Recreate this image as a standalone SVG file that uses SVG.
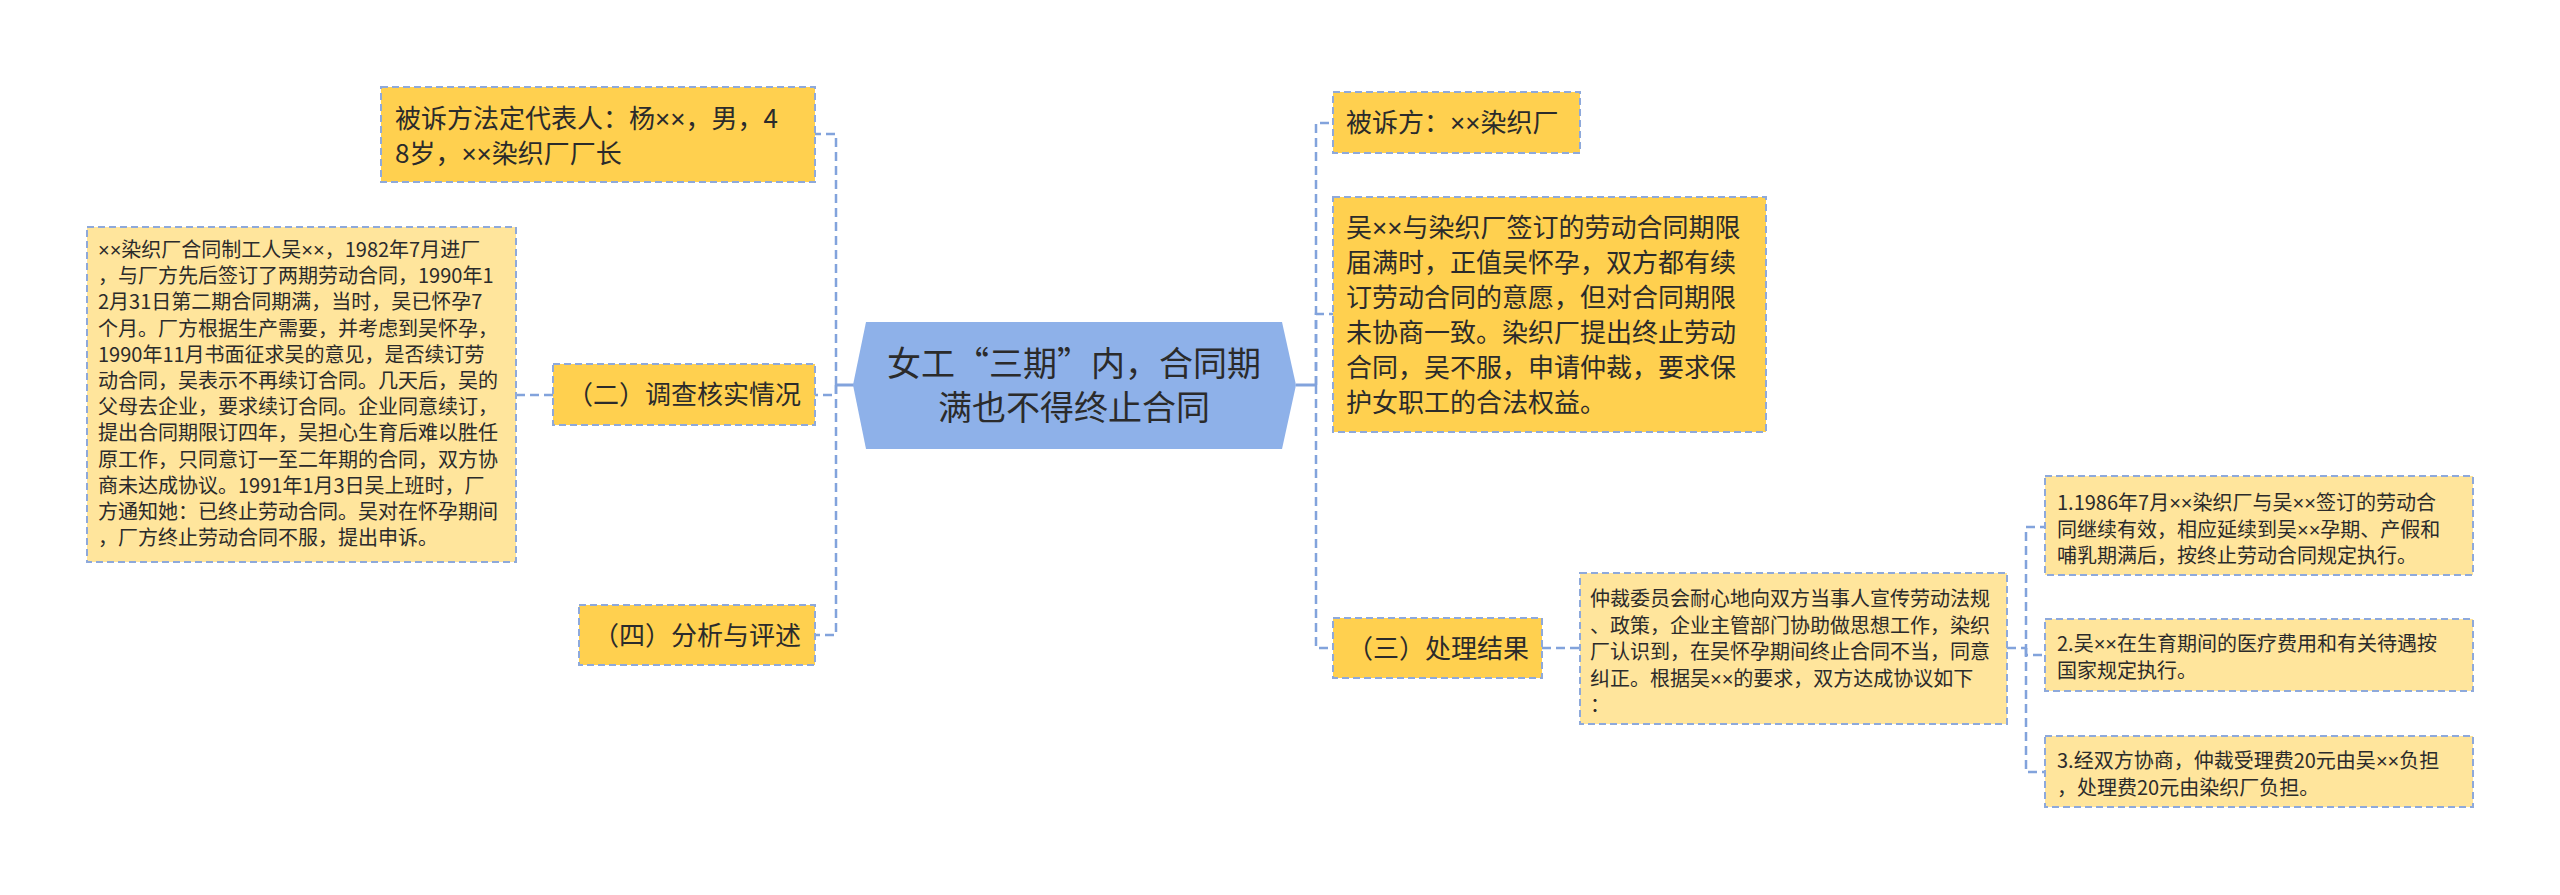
<svg xmlns="http://www.w3.org/2000/svg" width="2560" height="895" viewBox="0 0 2560 895">
<style>
text{font-family:"Noto Sans CJK SC","Microsoft YaHei",sans-serif;fill:#2b2b2b}
.x{font-family:"Liberation Sans",sans-serif}
.n1{fill:#FFD04F;stroke:#8EA9DB;stroke-width:2;stroke-dasharray:7 4}
.n2{fill:#FFE59C;stroke:#8EA9DB;stroke-width:2;stroke-dasharray:7 4}
.t26{font-size:26px}
.t20{font-size:20px}
.t34{font-size:34px}
.c{fill:none;stroke:#82A3DC;stroke-width:2.5;stroke-dasharray:9 5}
.s{fill:none;stroke:#82A3DC;stroke-width:3}
</style>
<rect width="2560" height="895" fill="#ffffff"/>
<g id="connectors">
<path class="s" d="M855 385H836"/>
<path class="c" d="M836 385V134H815"/>
<path class="c" d="M836 385V395H815"/>
<path class="c" d="M836 385V635H815"/>
<path class="c" d="M553 395H516"/>
<path class="s" d="M1296 385H1316"/>
<path class="c" d="M1316 385V123H1333"/>
<path class="c" d="M1316 385V314H1333"/>
<path class="c" d="M1316 385V648H1333"/>
<path class="c" d="M1542 648H1580"/>
<path class="c" d="M2007 648H2026V527H2045"/>
<path class="c" d="M2026 648V655H2045"/>
<path class="c" d="M2026 648V772H2045"/>
</g>
<g id="root">
<polygon points="866,322 1282,322 1296,385 1282,449 866,449 853,385" fill="#8EB1E9"/>
<text class="t34" x="1074" y="376" text-anchor="middle">女工“三期”内，合同期</text>
<text class="t34" x="1074" y="420" text-anchor="middle">满也不得终止合同</text>
</g>
<g id="n-rep">
<rect class="n1" x="381" y="87" width="434" height="95"/>
<text class="t26" x="395" y="128">被诉方法定代表人：杨<tspan class="x">××</tspan>，男，4</text>
<text class="t26" x="395" y="163">8岁，<tspan class="x">××</tspan>染织厂厂长</text>
</g>
<g id="n-invest">
<rect class="n1" x="553" y="364" width="262" height="61"/>
<text class="t26" x="567" y="404">（二）调查核实情况</text>
</g>
<g id="n-facts">
<rect class="n2" x="87" y="227" width="429" height="335"/>
<text class="t20" x="98" y="257"><tspan class="x">××</tspan>染织厂合同制工人吴<tspan class="x">××</tspan>，1982年7月进厂</text>
<text class="t20" x="98" y="283.2">，与厂方先后签订了两期劳动合同，1990年1</text>
<text class="t20" x="98" y="309.4">2月31日第二期合同期满，当时，吴已怀孕7</text>
<text class="t20" x="98" y="335.6">个月。厂方根据生产需要，并考虑到吴怀孕，</text>
<text class="t20" x="98" y="361.8">1990年11月书面征求吴的意见，是否续订劳</text>
<text class="t20" x="98" y="388">动合同，吴表示不再续订合同。几天后，吴的</text>
<text class="t20" x="98" y="414.2">父母去企业，要求续订合同。企业同意续订，</text>
<text class="t20" x="98" y="440.4">提出合同期限订四年，吴担心生育后难以胜任</text>
<text class="t20" x="98" y="466.6">原工作，只同意订一至二年期的合同，双方协</text>
<text class="t20" x="98" y="492.8">商未达成协议。1991年1月3日吴上班时，厂</text>
<text class="t20" x="98" y="519">方通知她：已终止劳动合同。吴对在怀孕期间</text>
<text class="t20" x="98" y="545.2">，厂方终止劳动合同不服，提出申诉。</text>
</g>
<g id="n-analysis">
<rect class="n1" x="579" y="605" width="236" height="60"/>
<text class="t26" x="593" y="645">（四）分析与评述</text>
</g>
<g id="n-defendant">
<rect class="n1" x="1333" y="92" width="247" height="61"/>
<text class="t26" x="1346" y="132">被诉方：<tspan class="x">××</tspan>染织厂</text>
</g>
<g id="n-dispute">
<rect class="n1" x="1333" y="197" width="433" height="235"/>
<text class="t26" x="1346" y="237">吴<tspan class="x">××</tspan>与染织厂签订的劳动合同期限</text>
<text class="t26" x="1346" y="272">届满时，正值吴怀孕，双方都有续</text>
<text class="t26" x="1346" y="307">订劳动合同的意愿，但对合同期限</text>
<text class="t26" x="1346" y="342">未协商一致。染织厂提出终止劳动</text>
<text class="t26" x="1346" y="377">合同，吴不服，申请仲裁，要求保</text>
<text class="t26" x="1346" y="412">护女职工的合法权益。</text>
</g>
<g id="n-result">
<rect class="n1" x="1333" y="618" width="209" height="60"/>
<text class="t26" x="1347" y="658">（三）处理结果</text>
</g>
<g id="n-arbitration">
<rect class="n2" x="1580" y="573" width="427" height="151"/>
<text class="t20" x="1590" y="606">仲裁委员会耐心地向双方当事人宣传劳动法规</text>
<text class="t20" x="1590" y="632.5">、政策，企业主管部门协助做思想工作，染织</text>
<text class="t20" x="1590" y="659">厂认识到，在吴怀孕期间终止合同不当，同意</text>
<text class="t20" x="1590" y="685.5">纠正。根据吴<tspan class="x">××</tspan>的要求，双方达成协议如下</text>
<text class="t20" x="1590" y="712">：</text>
</g>
<g id="n-item1">
<rect class="n2" x="2045" y="476" width="428" height="99"/>
<text class="t20" x="2057" y="510">1.1986年7月<tspan class="x">××</tspan>染织厂与吴<tspan class="x">××</tspan>签订的劳动合</text>
<text class="t20" x="2057" y="536.5">同继续有效，相应延续到吴<tspan class="x">××</tspan>孕期、产假和</text>
<text class="t20" x="2057" y="563">哺乳期满后，按终止劳动合同规定执行。</text>
</g>
<g id="n-item2">
<rect class="n2" x="2045" y="619" width="428" height="72"/>
<text class="t20" x="2057" y="651">2.吴<tspan class="x">××</tspan>在生育期间的医疗费用和有关待遇按</text>
<text class="t20" x="2057" y="678">国家规定执行。</text>
</g>
<g id="n-item3">
<rect class="n2" x="2045" y="736" width="428" height="71"/>
<text class="t20" x="2057" y="768">3.经双方协商，仲裁受理费20元由吴<tspan class="x">××</tspan>负担</text>
<text class="t20" x="2057" y="795">，处理费20元由染织厂负担。</text>
</g>
</svg>
